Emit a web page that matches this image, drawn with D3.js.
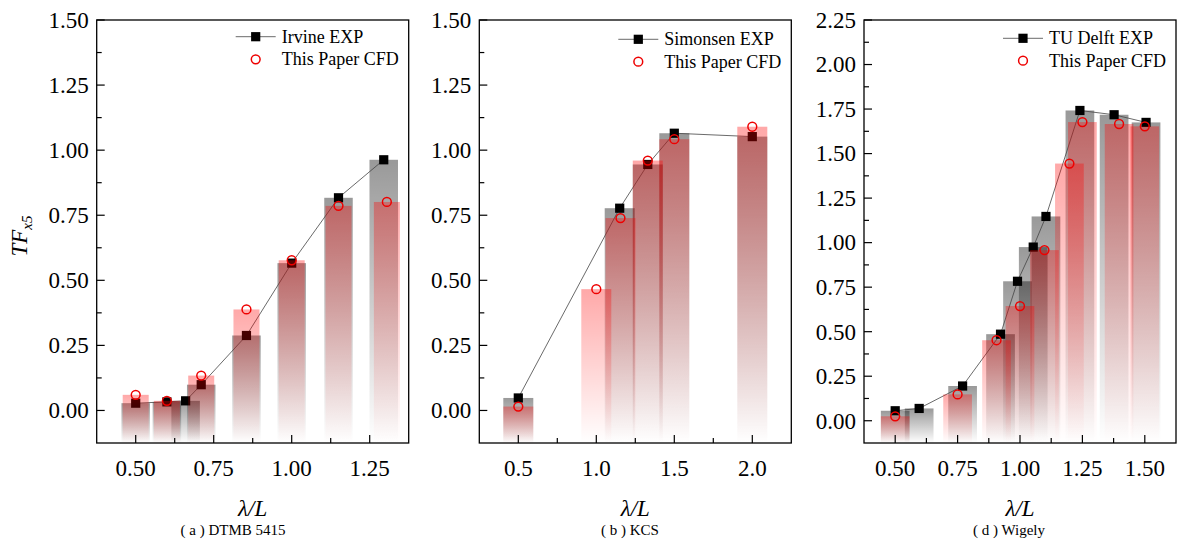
<!DOCTYPE html>
<html><head><meta charset="utf-8">
<script src="https://cdn.jsdelivr.net/npm/d3@7"></script>
<style>body{margin:0;background:#fff}svg{display:block}text{font-family:"Liberation Serif","Times New Roman",serif;fill:#000}</style>
</head><body><svg id="c" width="1185" height="550"></svg>
<script>
// ---- data ----
const aExpX = [0.5, 0.6, 0.66, 0.71, 0.855, 1.0, 1.15, 1.295];
const aExpY = [0.028, 0.033, 0.037, 0.099, 0.288, 0.566, 0.817, 0.963];
const aCfdX = [0.5, 0.6, 0.71, 0.855, 1.0, 1.15, 1.305];
const aCfdY = [0.060, 0.037, 0.134, 0.388, 0.577, 0.786, 0.801];

const bExpX = [0.5, 1.15, 1.33, 1.5, 2.0];
const bExpY = [0.048, 0.777, 0.945, 1.065, 1.052];
const bCfdX = [0.5, 1.0, 1.155, 1.33, 1.5, 2.0];
const bCfdY = [0.015, 0.466, 0.739, 0.96, 1.042, 1.09];

const dExpX = [0.5, 0.596, 0.77, 0.922, 0.99, 1.053, 1.104, 1.24, 1.377, 1.505];
const dExpY = [0.056, 0.069, 0.195, 0.486, 0.783, 0.975, 1.147, 1.742, 1.718, 1.675];
const dCfdX = [0.5, 0.75, 0.906, 1.0, 1.098, 1.198, 1.25, 1.397, 1.5];
const dCfdY = [0.025, 0.148, 0.452, 0.644, 0.958, 1.444, 1.677, 1.666, 1.653];

const aXTicks = [0.5, 0.75, 1.0, 1.25], aXLabels = ["0.50", "0.75", "1.00", "1.25"];
const bXTicks = [0.5, 1.0, 1.5, 2.0], bXLabels = ["0.5", "1.0", "1.5", "2.0"];
const dXTicks = [0.5, 0.75, 1.0, 1.25, 1.5], dXLabels = ["0.50", "0.75", "1.00", "1.25", "1.50"];
const abYTicks = [0, 0.25, 0.5, 0.75, 1.0, 1.25, 1.5];
const dYTicks = [0, 0.25, 0.5, 0.75, 1.0, 1.25, 1.5, 1.75, 2.0, 2.25];
const expNames = ["Irvine EXP", "Simonsen EXP", "TU Delft EXP"];
const cfdName = "This Paper CFD";
const captions = ["( a ) DTMB 5415", "( b ) KCS", "( d ) Wigely"];
const xTitle = "λ/L";

// ---- layout ----
const svg = d3.select("#c");
const defs = svg.append("defs");
const gg = defs.append("linearGradient").attr("id","gGrey").attr("x1",0).attr("y1",0).attr("x2",0).attr("y2",1);
gg.append("stop").attr("offset","0").attr("stop-color","#000").attr("stop-opacity",0.4);
gg.append("stop").attr("offset","1").attr("stop-color","#000").attr("stop-opacity",0);
const gr = defs.append("linearGradient").attr("id","gRed").attr("x1",0).attr("y1",0).attr("x2",0).attr("y2",1);
gr.append("stop").attr("offset","0").attr("stop-color","#ff0000").attr("stop-opacity",0.34);
gr.append("stop").attr("offset","1").attr("stop-color","#ff0000").attr("stop-opacity",0);

const panels = [
  {left:96.7, xd:[0.375,1.375], yd:[-0.125,1.5], expX:aExpX, expY:aExpY, cfdX:aCfdX, cfdY:aCfdY,
   xt:aXTicks, xl:aXLabels, xm:[0.625,0.875,1.125], yt:abYTicks, wG:28.5, wR:26, leg:[36.7,59.3], capX:233, name:expNames[0], cap:captions[0]},
  {left:479.3, xd:[0.25,2.25], yd:[-0.125,1.5], expX:bExpX, expY:bExpY, cfdX:bCfdX, cfdY:bCfdY,
   xt:bXTicks, xl:bXLabels, xm:[0.75,1.25,1.75], yt:abYTicks, wG:30, wR:30, leg:[39.3,61.7], capX:630, name:expNames[1], cap:captions[1]},
  {left:864, xd:[0.375,1.625], yd:[-0.125,2.25], expX:dExpX, expY:dExpY, cfdX:dCfdX, cfdY:dCfdY,
   xt:dXTicks, xl:dXLabels, xm:[0.625,0.875,1.125,1.375], yt:dYTicks, wG:28.7, wR:28.7, leg:[38.3,60.7], capX:1009, name:expNames[2], cap:captions[2]}
];
const PW = 312, pTop = 20, pBot = 443;

panels.forEach((p, i) => {
  const x = d3.scaleLinear().domain(p.xd).range([p.left, p.left + PW]);
  const y = d3.scaleLinear().domain(p.yd).range([pBot, pTop]);
  const g = svg.append("g");
  const cid = "clip" + i;
  defs.append("clipPath").attr("id", cid).append("rect").attr("x", p.left).attr("y", pTop).attr("width", PW).attr("height", pBot - pTop);
  const pg = g.append("g").attr("clip-path", `url(#${cid})`);
  const exp = p.expX.map((v, k) => [v, p.expY[k]]);
  const cfd = p.cfdX.map((v, k) => [v, p.cfdY[k]]);
  pg.selectAll(".bg").data(exp).join("rect").attr("x", d => x(d[0]) - p.wG/2).attr("y", d => y(d[1]))
    .attr("width", p.wG).attr("height", d => pBot - y(d[1])).attr("fill", "url(#gGrey)");
  pg.append("path").datum(exp).attr("d", d3.line().x(d => x(d[0])).y(d => y(d[1])))
    .attr("fill", "none").attr("stroke", "#444").attr("stroke-width", 0.8);
  pg.selectAll(".sq").data(exp).join("rect").attr("x", d => x(d[0]) - 4.6).attr("y", d => y(d[1]) - 4.6)
    .attr("width", 9.2).attr("height", 9.2).attr("fill", "#000");
  pg.selectAll(".br").data(cfd).join("rect").attr("x", d => x(d[0]) - p.wR/2).attr("y", d => y(d[1]))
    .attr("width", p.wR).attr("height", d => pBot - y(d[1])).attr("fill", "url(#gRed)");
  pg.selectAll(".ci").data(cfd).join("circle").attr("cx", d => x(d[0])).attr("cy", d => y(d[1])).attr("r", 4.4)
    .attr("fill", "none").attr("stroke", "#ee0000").attr("stroke-width", 1.5);

  g.append("rect").attr("x", p.left).attr("y", pTop).attr("width", PW).attr("height", pBot - pTop)
    .attr("fill", "none").attr("stroke", "#000").attr("stroke-width", 1.3);
  const yMinor = [];
  for (let v = p.yd[0] + 0.25; v < p.yd[1]; v += 0.25) yMinor.push(v);
  g.selectAll(".ymn").data(yMinor).join("line").attr("x1", p.left).attr("x2", p.left + 5)
    .attr("y1", d => y(d)).attr("y2", d => y(d)).attr("stroke", "#000").attr("stroke-width", 1.2);
  g.selectAll(".ymj").data(p.yt).join("line").attr("x1", p.left).attr("x2", p.left + 8)
    .attr("y1", d => y(d)).attr("y2", d => y(d)).attr("stroke", "#000").attr("stroke-width", 1.2);
  g.selectAll(".yl").data(p.yt).join("text").attr("x", p.left - 8).attr("y", d => y(d)).attr("dy", "0.34em")
    .attr("text-anchor", "end").attr("font-size", 23).text(d => d3.format(".2f")(d));
  g.selectAll(".xmn").data(p.xm).join("line").attr("x1", d => x(d)).attr("x2", d => x(d))
    .attr("y1", pBot).attr("y2", pBot - 5).attr("stroke", "#000").attr("stroke-width", 1.2);
  g.selectAll(".xmj").data(p.xt).join("line").attr("x1", d => x(d)).attr("x2", d => x(d))
    .attr("y1", pBot).attr("y2", pBot - 8).attr("stroke", "#000").attr("stroke-width", 1.2);
  g.selectAll(".xl").data(p.xt).join("text").attr("x", d => x(d)).attr("y", pBot + 33)
    .attr("text-anchor", "middle").attr("font-size", 23).text((d, k) => p.xl[k]);
  g.append("text").attr("x", p.left + PW/2).attr("y", 516).attr("text-anchor", "middle")
    .attr("font-size", 23).attr("font-style", "italic").text(xTitle);
  g.append("text").attr("x", p.capX).attr("y", 535).attr("text-anchor", "middle")
    .attr("font-size", 15).text(p.cap);
  const lx = p.left + PW - 127;
  g.append("line").attr("x1", lx - 46).attr("x2", lx - 6).attr("y1", p.leg[0]).attr("y2", p.leg[0])
    .attr("stroke", "#444").attr("stroke-width", 0.8);
  g.append("rect").attr("x", lx - 26 - 4.6).attr("y", p.leg[0] - 4.6).attr("width", 9.2).attr("height", 9.2).attr("fill", "#000");
  g.append("text").attr("x", lx).attr("y", p.leg[0]).attr("dy", "0.34em").attr("font-size", 18).text(p.name);
  g.append("circle").attr("cx", lx - 26).attr("cy", p.leg[1]).attr("r", 4.4).attr("fill", "none")
    .attr("stroke", "#ee0000").attr("stroke-width", 1.5);
  g.append("text").attr("x", lx).attr("y", p.leg[1]).attr("dy", "0.34em").attr("font-size", 18).text(cfdName);
});

const yt = svg.append("text").attr("transform", "translate(27,236) rotate(-90)").attr("text-anchor", "middle")
  .attr("font-size", 23).attr("font-style", "italic");
yt.append("tspan").text("TF");
yt.append("tspan").attr("font-size", 15).attr("dy", 5).text("x5");
</script></body></html>
